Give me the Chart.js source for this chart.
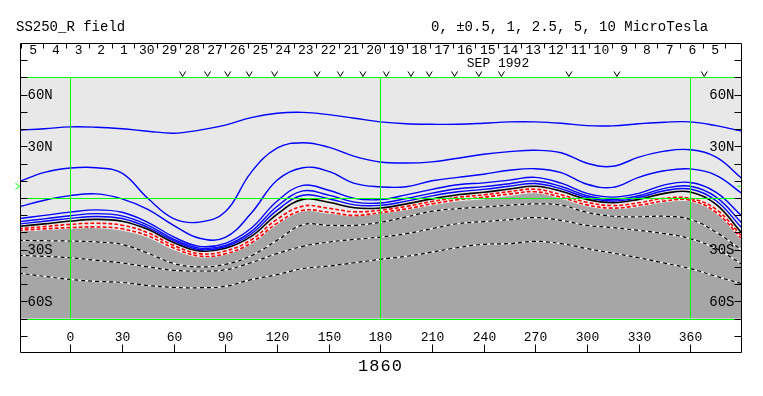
<!DOCTYPE html>
<html><head><meta charset="utf-8">
<script src="https://cdn.jsdelivr.net/npm/chart.js@4"></script>
<style>html,body{margin:0;padding:0;background:#fff;}#wrap{width:763px;height:396px;}</style>
</head><body><div id="wrap"><canvas id="c" width="763" height="396"></canvas></div>
<script>
// ---- data (latitude in degrees at each Carrington longitude) ----
const LON = [-30,-15,0,15,30,45,60,75,90,105,120,135,150,165,180,195,210,225,240,255,270,285,300,315,330,345,360,375,390];
const BLUE1 = [39.4,40.2,41.3,41.1,40.2,38.8,37.6,39.4,42.3,46.7,49.2,49.7,48.4,46.3,44.2,43.1,42.8,42.8,43.4,44.2,44.2,43.4,42.0,41.9,43.1,44.0,44.2,42.0,38.8];
const BLUE2 = [9.4,14.9,17.4,17.6,14.4,-0.2,-12.0,-14.0,-8.0,14.9,28.9,32.1,29.5,24.2,20.9,20.3,21.0,23.1,25.4,26.9,27.7,26.3,20.2,18.4,23.7,27.2,28.0,23.7,11.3];
const BLUE3 = [-5.2,-1.3,1.4,2.4,-0.5,-6.6,-15.9,-23.4,-22.9,-8.9,10.3,17.6,15.5,8.5,6.5,6.5,10.0,12.0,13.8,16.1,17.0,14.7,8.0,6.2,12.0,15.8,16.9,13.2,2.6];
const BLUE4 = [-12.0,-10.1,-8.2,-6.9,-8.3,-14.1,-22.6,-28.1,-26.3,-17.6,-1.9,7.3,4.5,-0.2,-0.9,1.8,5.0,7.7,8.8,10.4,12.0,8.6,2.7,0.5,2.7,7.6,9.0,3.3,-10.6];
const BLUE5 = [-13.8,-12.1,-10.3,-9.1,-10.4,-15.7,-23.9,-29.1,-27.5,-19.5,-4.9,4.1,1.7,-2.4,-2.9,-0.3,2.8,5.4,6.6,8.3,9.9,6.7,1.3,-0.8,1.3,5.6,6.8,0.5,-14.6];
const BLUE6 = [-15.1,-13.5,-11.8,-10.7,-11.9,-17.0,-24.8,-29.9,-28.3,-20.9,-7.2,1.6,-0.4,-4.0,-4.3,-1.8,1.2,3.6,5.0,6.8,8.4,5.3,0.3,-1.7,0.3,4.2,5.2,-1.6,-17.5];
const NEUTRAL = [-16.5,-15.0,-13.4,-12.4,-13.5,-18.2,-25.8,-30.7,-29.2,-22.3,-9.5,-0.8,-2.5,-5.7,-5.8,-3.4,-0.5,1.9,3.3,5.2,6.8,3.9,-0.8,-2.7,-0.8,2.7,3.5,-3.7,-20.5];
const RED1 = [-17.8,-16.6,-15.3,-14.7,-15.8,-20.2,-27.5,-32.3,-30.8,-24.3,-12.4,-4.7,-6.0,-8.0,-7.1,-4.9,-2.0,0.4,1.8,3.7,5.1,1.9,-2.5,-4.4,-2.8,-0.2,-0.3,-6.6,-22.4];
const RED2 = [-18.8,-17.9,-17.2,-16.8,-17.9,-22.0,-29.0,-33.7,-32.4,-26.1,-14.7,-7.2,-8.3,-10.1,-8.5,-6.3,-3.4,-1.0,0.4,2.3,3.6,0.4,-4.0,-5.9,-4.3,-1.7,-1.3,-8.4,-23.8];
const GRAY_EDGE = [-19.8,-19.0,-18.2,-17.8,-19.3,-23.4,-30.5,-34.8,-33.3,-27.0,-15.9,-8.2,-9.5,-10.9,-9.1,-7.2,-4.6,-2.3,-1.1,0.8,2.4,-0.8,-5.2,-6.8,-5.5,-2.8,-2.5,-9.5,-25.2];
const NEG1 = [-24.6,-24.8,-25.0,-25.5,-27.0,-32.0,-38.0,-40.0,-38.5,-33.5,-24.6,-15.5,-15.9,-15.9,-14.1,-11.0,-7.7,-6.2,-5.2,-4.2,-3.4,-4.2,-8.3,-10.6,-10.9,-10.6,-12.4,-19.9,-30.4];
const NEG2 = [-33.3,-33.9,-34.7,-36.2,-37.7,-40.0,-42.0,-42.4,-41.7,-37.5,-32.3,-28.1,-25.6,-24.0,-22.7,-20.7,-17.8,-14.9,-13.7,-12.6,-11.4,-13.0,-15.9,-17.2,-18.8,-20.7,-23.6,-29.4,-38.5];
const NEG3 = [-43.6,-45.5,-47.3,-48.4,-49.0,-50.8,-51.9,-52.1,-51.3,-47.4,-44.5,-41.0,-39.5,-37.6,-35.6,-33.9,-31.4,-28.8,-26.9,-26.5,-25.2,-26.5,-29.4,-32.0,-34.7,-37.8,-41.0,-45.5,-49.8];

// ---- axes / annotations ----
const LON_TICKS = [0,30,60,90,120,150,180,210,240,270,300,330,360];
const LAT_TICKS = [-80,-70,-60,-50,-40,-30,-20,-10,0,10,20,30,40,50,60,70,80];
const LAT_LABELS = [[60,'60N'],[30,'30N'],[-30,'30S'],[-60,'60S']];
const GREEN_LONS = [0,180,360];
const GREEN_LATS = [70,0,-70];
const DAY_LABELS = ['5','4','3','2','1','30','29','28','27','26','25','24','23','22','21','20','19','18','17','16','15','14','13','12','11','10','9','8','7','6','5'];
const DAY_EDGE_START = -28.8;   // longitude of first day boundary
const DAY_STEP = 13.2;          // degrees of rotation per day
const V_LONS = [65.2,79.7,91.4,103.9,118.6,143.3,156.8,169.9,183.5,197.8,208.4,223.1,237.2,250.3,289.5,317.4,368.1];
const B0_LAT = 6.8;
const TITLE_LEFT = 'SS250_R field';
const TITLE_RIGHT = '0, \u00B10.5, 1, 2.5, 5, 10 MicroTesla';
const MONTH_LABEL = 'SEP 1992';
const ROT_LABEL = '1860';

const pts = arr => arr.map((v,i)=>({x:LON[i], y:v}));
const FONT = '"Liberation Mono", "DejaVu Sans Mono", monospace';

function line(data, color, width, dash){
  return {data: pts(data), borderColor: color, borderWidth: width, borderDash: dash||[], fill:false, pointRadius:0, tension:0.4};
}

// listed bottom-to-top in drawing order
const layers = [
  {data: pts(GRAY_EDGE), borderColor:'#a6a6a6', borderWidth:1, backgroundColor:'#a6a6a6', fill:{value:-70}, pointRadius:0, tension:0.4},
  line(NEG1,'#ffffff',1.2), line(NEG1,'#000000',1.2,[4,3]),
  line(NEG2,'#ffffff',1.2), line(NEG2,'#000000',1.2,[4,3]),
  line(NEG3,'#ffffff',1.2), line(NEG3,'#000000',1.2,[4,3]),
  line(RED2,'#ffffff',1.6), line(RED2,'#ff0000',1.6,[4,2]),
  line(RED1,'#ffffff',1.6), line(RED1,'#ff0000',1.6,[4,2]),
  line(NEUTRAL,'#000000',1.6),
  line(BLUE6,'#0000ff',1.4), line(BLUE5,'#0000ff',1.4), line(BLUE4,'#0000ff',1.4),
  line(BLUE3,'#0000ff',1.4), line(BLUE2,'#0000ff',1.4), line(BLUE1,'#0000ff',1.4)
];
const datasets = layers.map((d,i)=>Object.assign(d,{order: layers.length - i}));

const framePlugin = {
  id:'frame',
  beforeDatasetsDraw(chart){
    const {ctx, scales:{x,y}} = chart;
    const t = y.getPixelForValue(70), b = y.getPixelForValue(-70);
    ctx.save();
    ctx.fillStyle = '#e8e8e8';
    ctx.fillRect(x.left, t, x.right-x.left, b-t);
    ctx.restore();
  },
  afterDatasetsDraw(chart){
    const {ctx, scales:{x,y}} = chart;
    const L = Math.round(x.left)+0.5, R = Math.round(x.right)-0.5;
    const T = Math.round(y.top)+0.5, B = Math.round(y.bottom)-0.5;
    ctx.save();
    // green grid
    ctx.strokeStyle = '#00ff00'; ctx.lineWidth = 1;
    GREEN_LATS.forEach(v=>{const py=Math.round(y.getPixelForValue(v))+0.5; ctx.beginPath(); ctx.moveTo(L,py); ctx.lineTo(R,py); ctx.stroke();});
    GREEN_LONS.forEach(v=>{const px=Math.round(x.getPixelForValue(v))+0.5; ctx.beginPath(); ctx.moveTo(px,y.getPixelForValue(70)); ctx.lineTo(px,y.getPixelForValue(-70)); ctx.stroke();});
    // B0 markers
    const by = y.getPixelForValue(B0_LAT);
    ctx.beginPath(); ctx.moveTo(L-5,by-3); ctx.lineTo(L-1,by); ctx.lineTo(L-5,by+3); ctx.stroke();
    ctx.beginPath(); ctx.moveTo(R-4,by); ctx.lineTo(R,by); ctx.stroke();
    // frame
    ctx.strokeStyle = '#000'; ctx.lineWidth = 1;
    ctx.beginPath(); ctx.moveTo(L,T); ctx.lineTo(R,T); ctx.lineTo(R,B); ctx.lineTo(L,B); ctx.closePath(); ctx.stroke();
    // lat ticks
    LAT_TICKS.forEach(v=>{const py=Math.round(y.getPixelForValue(v))+0.5;
      ctx.beginPath(); ctx.moveTo(L,py); ctx.lineTo(L+7,py); ctx.moveTo(R,py); ctx.lineTo(R-7,py); ctx.stroke();});
    // lon ticks + labels
    ctx.fillStyle = '#000'; ctx.font = '13px '+FONT; ctx.textAlign='center'; ctx.textBaseline='middle';
    LON_TICKS.forEach(v=>{const px=Math.round(x.getPixelForValue(v))+0.5;
      ctx.beginPath(); ctx.moveTo(px,B); ctx.lineTo(px,B-8); ctx.stroke();
      ctx.fillText(String(v), px, B-15);});
    // lat labels
    ctx.font = '14px '+FONT;
    LAT_LABELS.forEach(([v,s])=>{const py=y.getPixelForValue(v);
      ctx.textAlign='left'; ctx.fillText(s, L+7, py+0.5);
      ctx.textAlign='right'; ctx.fillText(s, R-7, py+0.5);});
    // day row
    ctx.font = '13px '+FONT; ctx.textAlign='center';
    for(let k=0;k<=DAY_LABELS.length;k++){
      const px = Math.round(x.getPixelForValue(DAY_EDGE_START+k*DAY_STEP))+0.5;
      ctx.beginPath(); ctx.moveTo(px,T); ctx.lineTo(px,T+5); ctx.stroke();
      if(k<DAY_LABELS.length){
        ctx.fillText(DAY_LABELS[k], x.getPixelForValue(DAY_EDGE_START+(k+0.5)*DAY_STEP)+1, T+7.5);
      }
    }
    ctx.fillText(MONTH_LABEL, 498, T+20);
    // v markers
    const vy = y.getPixelForValue(70);
    V_LONS.forEach(v=>{const px=x.getPixelForValue(v);
      ctx.beginPath(); ctx.moveTo(px-3,vy-6); ctx.lineTo(px,vy-1); ctx.lineTo(px+3,vy-6); ctx.stroke();});
    // titles
    ctx.font = '14px '+FONT; ctx.textAlign='left';
    ctx.fillText(TITLE_LEFT, 16, 27);
    ctx.fillText(TITLE_RIGHT, 431, 27);
    ctx.font = '17px '+FONT; ctx.textAlign='center';
    ctx.fillText(ROT_LABEL.split('').join(String.fromCharCode(8202)), 380, 366);
    ctx.restore();
  }
};

new Chart(document.getElementById('c'), {
  type:'line',
  data:{datasets},
  options:{
    responsive:false, animation:false, devicePixelRatio:1,
    layout:{padding:{left:20,right:21,top:43,bottom:43}},
    scales:{
      x:{type:'linear', min:-29.2, max:390, display:false},
      y:{type:'linear', min:-90, max:90, display:false}
    },
    plugins:{legend:{display:false}, tooltip:{enabled:false}}
  },
  plugins:[framePlugin]
});
</script></body></html>
